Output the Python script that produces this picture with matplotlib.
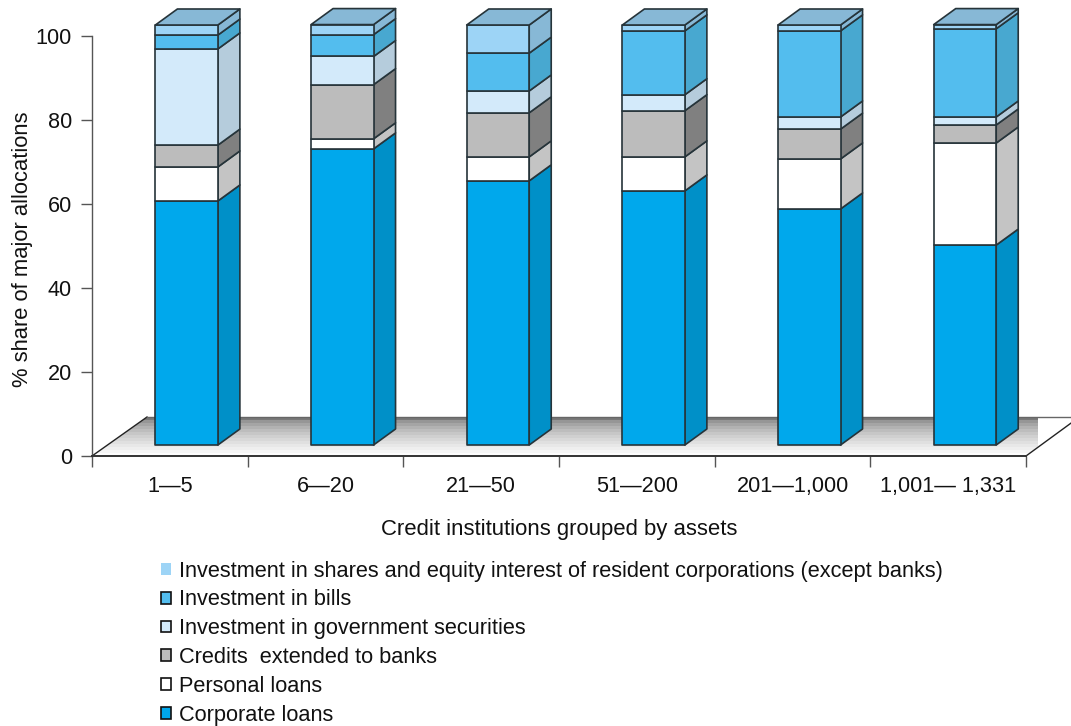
import numpy as np
import matplotlib
matplotlib.use("Agg")
import matplotlib.pyplot as plt
from matplotlib.patches import Polygon, Patch

plt.rcParams['font.family'] = ['Liberation Sans', 'DejaVu Sans']

categories = ["1—5", "6—20", "21—50", "51—200", "201—1,000", "1,001— 1,331"]
corporate = [58.1, 70.5, 62.9, 60.5, 56.2, 47.6]
personal = [8.1, 2.4, 5.7, 8.1, 11.9, 24.3]
credits_ = [5.2, 12.9, 10.5, 11.0, 7.1, 4.3]
government = [22.9, 6.7, 5.2, 3.8, 2.9, 1.9]
bills = [3.3, 5.2, 9.0, 15.2, 20.5, 21.0]
shares = [2.4, 2.4, 6.7, 1.4, 1.4, 1.0]
series = [corporate, personal, credits_, government, bills, shares]
labels = ["Corporate loans", "Personal loans", "Credits  extended to banks",
          "Investment in government securities", "Investment in bills",
          "Investment in shares and equity interest of resident corporations (except banks)"]
front = ["#00A8EC", "#FFFFFF", "#BCBCBC", "#D3EAFA", "#53BDEE", "#9DD4F6"]
side = ["#0090C8", "#C4C4C4", "#808080", "#B5CCDC", "#48A8D0", "#87B8D6"]
edge = "#26343A"

W, H = 1071, 726
fig = plt.figure(figsize=(W / 100, H / 100), dpi=100)
L, R, T, B = 92, 1026, 36, 456
ax = fig.add_axes([L / W, 1 - B / H, (R - L) / W, (B - T) / H])
ax.set_xlim(0, 6)
ax.set_ylim(0, 100)
sx = (R - L) / 6      # px per category
sy = (B - T) / 100    # px per unit
ddx, ddy = 22 / sx, 16 / sy      # depth of bars
base = 11 / sy                   # front plane of bars above the axis
shift = 16.8 / sx                # bars shift from category centre
bw = 62.5 / sx

# floor
fx, fy = 55 / sx, 39 / sy
clip_poly = Polygon([(0, 0), (fx, fy), (6.077, fy), (6.077, base - 0.3), (6, 0)],
                    transform=ax.transData, fc="none", ec="none")
ax.add_patch(clip_poly)
grad = np.linspace(0, 1, 13) ** 0.6
grad = (0.47 + 0.52 * grad).reshape(-1, 1)
im = ax.imshow(grad, extent=(0, 6.1, 0, fy), origin="upper", cmap="gray", vmin=0, vmax=1,
               aspect="auto", interpolation="nearest", zorder=1)
im.set_clip_box(fig.bbox)
im.set_clip_path(clip_poly)
ax.set_xlim(0, 6)
ax.set_ylim(0, 100)
bkw = dict(color="#222222", lw=1.0, clip_on=False, zorder=1.5)
ax.plot([0, fx], [0, fy], **bkw)
ax.plot([fx, 6.4], [fy, fy], color="#666666", lw=1.0, clip_on=False, zorder=1.5)
ax.plot([6, 6.29], [0, 33 / sy], **bkw)

# bars
for i in range(len(categories)):
    x0 = i + 0.5 + shift - bw / 2
    x1 = x0 + bw
    y = base
    for vals, fc, sc in zip(series, front, side):
        v = vals[i]
        pkw = dict(closed=True, ec=edge, lw=1.2, clip_on=False, zorder=3, joinstyle="round")
        ax.add_patch(Polygon([(x1, y), (x1 + ddx, y + ddy), (x1 + ddx, y + v + ddy), (x1, y + v)], fc=sc, **pkw))
        ax.add_patch(Polygon([(x0, y), (x1, y), (x1, y + v), (x0, y + v)], fc=fc, **pkw))
        y += v
    ax.add_patch(Polygon([(x0, y), (x1, y), (x1 + ddx, y + ddy), (x0 + ddx, y + ddy)],
                         fc=side[-1], **pkw))

# axes
for s in ("top", "right"):
    ax.spines[s].set_visible(False)
ax.patch.set_alpha(0)
ax.spines["left"].set_color("#555555")
ax.spines["bottom"].set_color("#333333")
ax.spines["left"].set_linewidth(1.0)
ax.spines["bottom"].set_linewidth(1.4)
ax.set_yticks(range(0, 101, 20))
ax.set_xticks(range(7))
ax.set_xticklabels([])
ax.set_xticks(np.arange(6) + 0.5, categories, minor=True)
ax.tick_params(axis="x", which="major", length=8, width=1, color="#555555")
ax.tick_params(axis="x", which="minor", length=0, pad=14.2, labelsize=15.6, labelcolor="#111111")
ax.tick_params(axis="y", length=8, width=1, color="#555555", labelsize=15.6, pad=6.5, labelcolor="#111111")
ax.set_ylabel("% share of major allocations", fontsize=15.8, color="#111111")
ax.yaxis.set_label_coords(-0.063, 0.492)
ax.set_xlabel("Credit institutions grouped by assets", fontsize=15.9, color="#111111")
ax.xaxis.set_label_coords(0.5, -0.149)

# legend
handles = [Patch(fc=fc, ec=("none" if k == 5 else "#111111"), lw=1.2) for k, fc in enumerate(front)]
leg = fig.legend(handles[::-1], labels[::-1], loc="upper left",
                 bbox_to_anchor=(160.5 / W, 1 - 560.5 / H), frameon=False, fontsize=15.7,
                 handlelength=0.46, handleheight=0.46, handletextpad=0.41,
                 labelspacing=0.36, borderpad=0, borderaxespad=0, labelcolor="#111111")

fig.savefig("out.png", dpi=100)
